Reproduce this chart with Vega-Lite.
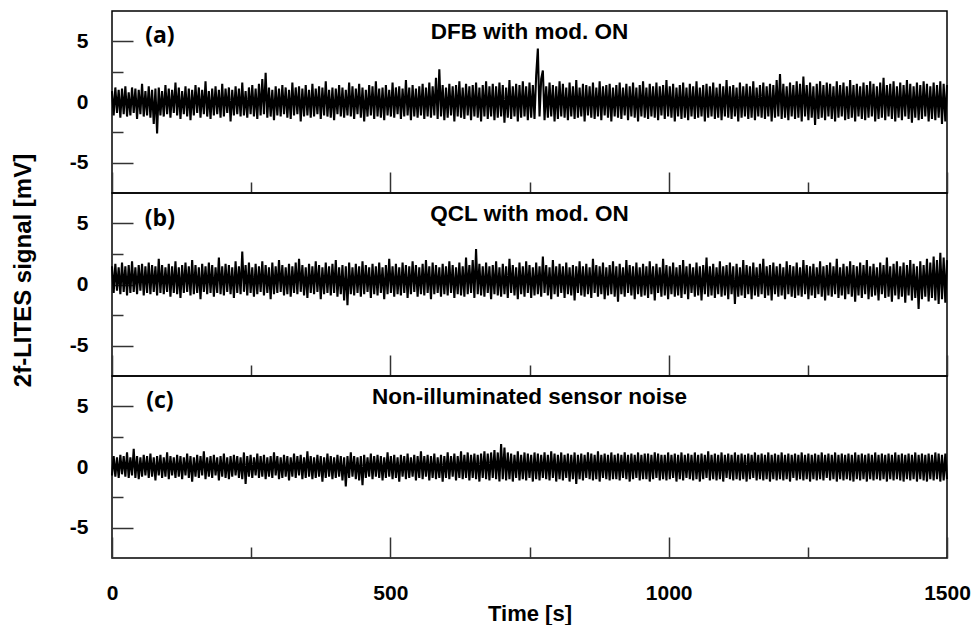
{
  "$schema": "https://vega.github.io/schema/vega-lite/v6.json",
  "padding": {"left": 10, "top": 10, "right": 0, "bottom": 0},
  "background": "white",
  "spacing": 0,
  "bounds": "flush",
  "config": {
    "font": "Liberation Sans",
    "view": {"stroke": "black", "strokeWidth": 1.5},
    "axis": {
      "domain": false,
      "grid": false,
      "labelFont": "Liberation Sans",
      "labelFontWeight": "bold",
      "labelFontSize": 21,
      "labelColor": "black",
      "labelFlush": false,
      "labelOverlap": false,
      "titleFont": "Liberation Sans",
      "titleFontWeight": "bold",
      "titleFontSize": 22,
      "titleColor": "black",
      "tickColor": "#333333",
      "tickWidth": 1.5
    },
    "line": {"color": "black", "strokeWidth": 2.1, "strokeJoin": "bevel", "clip": true}
  },
  "data": {"values": [
{"t":0,"a":0.9,"b":1.5,"c":-0.7},{"t":3,"a":-1.1,"b":-0.7,"c":0.9},{"t":6,"a":1.2,"b":1.7,"c":-0.8},{"t":9,"a":-0.9,"b":-0.5,"c":0.8},{"t":12,"a":1.0,"b":1.4,"c":-0.9},{"t":15,"a":-1.3,"b":-0.8,"c":1.0},{"t":18,"a":1.1,"b":1.8,"c":-0.6},{"t":21,"a":-1.0,"b":-0.6,"c":0.9},{"t":24,"a":1.3,"b":1.5,"c":-0.8},{"t":27,"a":-1.2,"b":-0.9,"c":1.2},
{"t":30,"a":0.8,"b":1.6,"c":-0.9},{"t":33,"a":-1.1,"b":-0.7,"c":0.8},{"t":36,"a":1.2,"b":1.9,"c":-0.7},{"t":39,"a":-0.9,"b":-0.6,"c":1.5},{"t":42,"a":1.1,"b":1.4,"c":-0.9},{"t":45,"a":-1.4,"b":-0.8,"c":0.9},{"t":48,"a":1.0,"b":1.6,"c":-1.0},{"t":51,"a":-1.0,"b":-0.5,"c":0.8},{"t":54,"a":1.5,"b":1.7,"c":-0.8},{"t":57,"a":-1.2,"b":-0.9,"c":1.0},
{"t":60,"a":0.9,"b":1.5,"c":-0.7},{"t":63,"a":-1.1,"b":-0.7,"c":0.9},{"t":66,"a":1.3,"b":1.8,"c":-0.9},{"t":69,"a":-1.3,"b":-0.8,"c":1.1},{"t":72,"a":1.0,"b":1.6,"c":-0.8},{"t":75,"a":-1.8,"b":-0.6,"c":0.8},{"t":78,"a":1.1,"b":1.5,"c":-1.1},{"t":81,"a":-2.6,"b":-0.9,"c":0.9},{"t":84,"a":1.2,"b":2.1,"c":-0.7},{"t":87,"a":-1.1,"b":-0.7,"c":1.0},
{"t":90,"a":0.9,"b":1.6,"c":-0.9},{"t":93,"a":-1.2,"b":-0.8,"c":0.8},{"t":96,"a":1.4,"b":1.4,"c":-0.8},{"t":99,"a":-1.0,"b":-0.6,"c":1.2},{"t":102,"a":1.1,"b":1.7,"c":-1.0},{"t":105,"a":-1.3,"b":-1.0,"c":0.9},{"t":108,"a":1.0,"b":1.5,"c":-0.7},{"t":111,"a":-0.9,"b":-0.7,"c":0.8},{"t":114,"a":1.6,"b":1.9,"c":-0.9},{"t":117,"a":-1.1,"b":-0.8,"c":1.0},
{"t":120,"a":1.2,"b":1.4,"c":-0.8},{"t":123,"a":-1.4,"b":-1.1,"c":0.9},{"t":126,"a":0.9,"b":1.6,"c":-1.0},{"t":129,"a":-1.0,"b":-0.7,"c":0.8},{"t":132,"a":1.3,"b":1.8,"c":-0.7},{"t":135,"a":-1.2,"b":-0.6,"c":1.1},{"t":138,"a":1.1,"b":1.5,"c":-0.9},{"t":141,"a":-1.5,"b":-0.9,"c":0.9},{"t":144,"a":1.0,"b":2.0,"c":-1.2},{"t":147,"a":-1.1,"b":-0.8,"c":0.8},
{"t":150,"a":1.4,"b":1.6,"c":-0.8},{"t":153,"a":-0.9,"b":-0.7,"c":1.0},{"t":156,"a":1.2,"b":1.4,"c":-0.9},{"t":159,"a":-1.3,"b":-1.2,"c":0.9},{"t":162,"a":1.0,"b":1.7,"c":-0.7},{"t":165,"a":-1.0,"b":-0.6,"c":1.3},{"t":168,"a":1.7,"b":1.5,"c":-1.0},{"t":171,"a":-1.2,"b":-0.8,"c":0.8},{"t":174,"a":0.9,"b":1.8,"c":-0.8},{"t":177,"a":-1.4,"b":-0.7,"c":0.9},
{"t":180,"a":1.1,"b":1.6,"c":-0.9},{"t":183,"a":-1.1,"b":-1.0,"c":1.0},{"t":186,"a":1.3,"b":1.4,"c":-0.7},{"t":189,"a":-1.0,"b":-0.7,"c":0.8},{"t":192,"a":1.0,"b":2.2,"c":-1.1},{"t":195,"a":-1.3,"b":-0.8,"c":0.9},{"t":198,"a":1.5,"b":1.5,"c":-0.8},{"t":201,"a":-1.2,"b":-0.9,"c":1.1},{"t":204,"a":1.1,"b":1.7,"c":-0.9},{"t":207,"a":-0.9,"b":-0.6,"c":0.8},
{"t":210,"a":1.2,"b":1.6,"c":-1.0},{"t":213,"a":-1.6,"b":-0.8,"c":0.9},{"t":216,"a":1.0,"b":1.4,"c":-0.8},{"t":219,"a":-1.1,"b":-1.1,"c":1.0},{"t":222,"a":1.3,"b":1.9,"c":-0.7},{"t":225,"a":-1.0,"b":-0.7,"c":0.9},{"t":228,"a":1.1,"b":1.5,"c":-0.9},{"t":231,"a":-1.2,"b":-0.8,"c":0.8},{"t":234,"a":1.6,"b":2.7,"c":-1.0},{"t":237,"a":-1.1,"b":-0.6,"c":1.2},
{"t":240,"a":0.9,"b":1.6,"c":-1.4},{"t":243,"a":-1.3,"b":-0.9,"c":0.9},{"t":246,"a":1.2,"b":1.8,"c":-0.8},{"t":249,"a":-1.0,"b":-0.7,"c":1.0},{"t":252,"a":1.4,"b":1.4,"c":-0.9},{"t":255,"a":-1.2,"b":-1.0,"c":0.8},{"t":258,"a":1.1,"b":1.7,"c":-0.7},{"t":261,"a":-1.4,"b":-0.8,"c":1.1},{"t":264,"a":1.5,"b":1.5,"c":-0.9},{"t":267,"a":-1.1,"b":-0.6,"c":0.9},
{"t":270,"a":1.9,"b":1.9,"c":-0.8},{"t":273,"a":-1.0,"b":-0.9,"c":1.0},{"t":276,"a":2.4,"b":1.6,"c":-1.0},{"t":279,"a":-1.3,"b":-0.7,"c":0.8},{"t":282,"a":1.2,"b":1.4,"c":-0.8},{"t":285,"a":-1.2,"b":-1.2,"c":0.9},{"t":288,"a":1.0,"b":1.8,"c":-0.9},{"t":291,"a":-1.5,"b":-0.8,"c":1.2},{"t":294,"a":1.3,"b":1.5,"c":-0.7},{"t":297,"a":-1.1,"b":-0.7,"c":0.9},
{"t":300,"a":1.1,"b":2.0,"c":-1.0},{"t":303,"a":-1.2,"b":-0.6,"c":0.8},{"t":306,"a":1.4,"b":1.6,"c":-0.9},{"t":309,"a":-1.0,"b":-0.9,"c":1.0},{"t":312,"a":1.2,"b":1.4,"c":-0.8},{"t":315,"a":-1.3,"b":-0.8,"c":0.9},{"t":318,"a":1.0,"b":1.7,"c":-1.1},{"t":321,"a":-1.4,"b":-1.0,"c":0.8},{"t":324,"a":1.6,"b":1.5,"c":-0.8},{"t":327,"a":-1.1,"b":-0.7,"c":1.1},
{"t":330,"a":1.2,"b":1.8,"c":-0.9},{"t":333,"a":-1.0,"b":-0.8,"c":0.9},{"t":336,"a":1.3,"b":2.1,"c":-0.7},{"t":339,"a":-1.6,"b":-0.6,"c":1.0},{"t":342,"a":1.1,"b":1.6,"c":-1.0},{"t":345,"a":-1.2,"b":-0.9,"c":0.8},{"t":348,"a":1.4,"b":1.4,"c":-0.9},{"t":351,"a":-1.1,"b":-1.1,"c":1.3},{"t":354,"a":1.0,"b":1.7,"c":-0.8},{"t":357,"a":-1.3,"b":-0.7,"c":0.9},
{"t":360,"a":1.5,"b":1.5,"c":-1.0},{"t":363,"a":-1.2,"b":-0.8,"c":0.8},{"t":366,"a":1.1,"b":1.9,"c":-0.9},{"t":369,"a":-1.0,"b":-0.6,"c":1.0},{"t":372,"a":1.3,"b":1.6,"c":-0.8},{"t":375,"a":-1.4,"b":-1.2,"c":0.9},{"t":378,"a":1.2,"b":1.4,"c":-1.2},{"t":381,"a":-1.1,"b":-0.8,"c":0.8},{"t":384,"a":1.7,"b":1.8,"c":-0.9},{"t":387,"a":-1.2,"b":-0.7,"c":1.1},
{"t":390,"a":1.0,"b":1.5,"c":-0.8},{"t":393,"a":-1.3,"b":-0.9,"c":0.9},{"t":396,"a":1.2,"b":1.7,"c":-1.0},{"t":399,"a":-1.5,"b":-0.7,"c":0.8},{"t":402,"a":1.1,"b":2.0,"c":-0.9},{"t":405,"a":-1.0,"b":-1.0,"c":1.0},{"t":408,"a":1.4,"b":1.4,"c":-0.8},{"t":411,"a":-1.2,"b":-0.8,"c":0.9},{"t":414,"a":1.2,"b":1.6,"c":-1.1},{"t":417,"a":-1.3,"b":-1.3,"c":0.8},
{"t":420,"a":1.0,"b":1.5,"c":-1.6},{"t":423,"a":-1.1,"b":-1.7,"c":0.9},{"t":426,"a":1.6,"b":1.8,"c":-0.9},{"t":429,"a":-1.2,"b":-0.8,"c":1.2},{"t":432,"a":1.3,"b":1.4,"c":-0.8},{"t":435,"a":-1.4,"b":-0.9,"c":0.9},{"t":438,"a":1.1,"b":1.7,"c":-1.0},{"t":441,"a":-1.0,"b":-0.7,"c":0.8},{"t":444,"a":1.5,"b":1.5,"c":-1.1},{"t":447,"a":-1.3,"b":-1.0,"c":0.9},
{"t":450,"a":1.2,"b":1.9,"c":-1.5},{"t":453,"a":-1.6,"b":-0.8,"c":1.0},{"t":456,"a":1.0,"b":1.6,"c":-0.9},{"t":459,"a":-1.2,"b":-0.6,"c":0.8},{"t":462,"a":1.4,"b":1.4,"c":-0.8},{"t":465,"a":-1.1,"b":-1.1,"c":1.1},{"t":468,"a":1.3,"b":1.7,"c":-1.0},{"t":471,"a":-1.4,"b":-0.8,"c":0.9},{"t":474,"a":1.7,"b":1.5,"c":-0.8},{"t":477,"a":-1.2,"b":-0.9,"c":1.0},
{"t":480,"a":1.1,"b":1.8,"c":-0.9},{"t":483,"a":-1.3,"b":-0.7,"c":0.9},{"t":486,"a":1.2,"b":1.4,"c":-1.1},{"t":489,"a":-1.5,"b":-1.2,"c":0.8},{"t":492,"a":1.4,"b":1.6,"c":-0.9},{"t":495,"a":-1.1,"b":-0.8,"c":1.2},{"t":498,"a":1.0,"b":2.1,"c":-0.8},{"t":501,"a":-1.2,"b":-0.7,"c":0.9},{"t":504,"a":1.6,"b":1.5,"c":-1.0},{"t":507,"a":-1.3,"b":-1.0,"c":1.0},
{"t":510,"a":1.2,"b":1.7,"c":-0.9},{"t":513,"a":-1.0,"b":-0.8,"c":0.8},{"t":516,"a":1.3,"b":1.4,"c":-1.2},{"t":519,"a":-1.4,"b":-0.9,"c":1.0},{"t":522,"a":1.1,"b":1.8,"c":-0.8},{"t":525,"a":-1.2,"b":-0.7,"c":0.9},{"t":528,"a":1.8,"b":1.6,"c":-1.0},{"t":531,"a":-1.1,"b":-1.1,"c":1.1},{"t":534,"a":1.2,"b":1.5,"c":-0.9},{"t":537,"a":-1.5,"b":-0.8,"c":0.8},
{"t":540,"a":1.4,"b":1.9,"c":-0.8},{"t":543,"a":-1.2,"b":-0.6,"c":1.0},{"t":546,"a":1.1,"b":1.6,"c":-1.1},{"t":549,"a":-1.3,"b":-1.0,"c":0.9},{"t":552,"a":1.3,"b":1.4,"c":-0.9},{"t":555,"a":-1.1,"b":-0.8,"c":1.3},{"t":558,"a":1.5,"b":1.7,"c":-1.0},{"t":561,"a":-1.4,"b":-0.9,"c":0.9},{"t":564,"a":1.2,"b":2.0,"c":-0.8},{"t":567,"a":-1.2,"b":-0.7,"c":1.0},
{"t":570,"a":1.6,"b":1.5,"c":-1.1},{"t":573,"a":-1.3,"b":-1.2,"c":0.9},{"t":576,"a":1.3,"b":1.8,"c":-0.9},{"t":579,"a":-1.1,"b":-0.8,"c":1.1},{"t":582,"a":2.0,"b":1.6,"c":-1.0},{"t":585,"a":-1.4,"b":-0.7,"c":0.8},{"t":588,"a":2.7,"b":1.4,"c":-0.9},{"t":591,"a":-1.2,"b":-1.0,"c":1.0},{"t":594,"a":1.4,"b":1.7,"c":-1.2},{"t":597,"a":-1.5,"b":-0.8,"c":0.9},
{"t":600,"a":1.2,"b":1.5,"c":-0.9},{"t":603,"a":-1.3,"b":-0.9,"c":1.2},{"t":606,"a":1.5,"b":1.9,"c":-1.0},{"t":609,"a":-1.1,"b":-0.7,"c":0.9},{"t":612,"a":1.3,"b":1.6,"c":-0.8},{"t":615,"a":-1.6,"b":-1.1,"c":1.1},{"t":618,"a":1.4,"b":1.4,"c":-1.1},{"t":621,"a":-1.2,"b":-0.8,"c":0.9},{"t":624,"a":1.7,"b":1.8,"c":-0.9},{"t":627,"a":-1.3,"b":-0.9,"c":1.3},
{"t":630,"a":1.2,"b":1.5,"c":-1.0},{"t":633,"a":-1.4,"b":-1.0,"c":1.0},{"t":636,"a":1.5,"b":2.2,"c":-0.9},{"t":639,"a":-1.1,"b":-0.8,"c":1.2},{"t":642,"a":1.3,"b":1.6,"c":-1.1},{"t":645,"a":-1.5,"b":-0.7,"c":1.0},{"t":648,"a":1.4,"b":2.0,"c":-0.9},{"t":651,"a":-1.2,"b":-1.1,"c":1.1},{"t":654,"a":1.6,"b":2.9,"c":-1.0},{"t":657,"a":-1.3,"b":-0.8,"c":1.0},
{"t":660,"a":1.2,"b":1.7,"c":-1.2},{"t":663,"a":-1.6,"b":-0.9,"c":1.1},{"t":666,"a":1.4,"b":1.5,"c":-0.9},{"t":669,"a":-1.2,"b":-1.0,"c":1.3},{"t":672,"a":1.7,"b":1.8,"c":-1.0},{"t":675,"a":-1.4,"b":-0.7,"c":1.1},{"t":678,"a":1.3,"b":1.5,"c":-1.1},{"t":681,"a":-1.2,"b":-1.2,"c":1.2},{"t":684,"a":1.5,"b":1.6,"c":-0.9},{"t":687,"a":-1.5,"b":-0.8,"c":1.4},
{"t":690,"a":1.3,"b":1.9,"c":-1.0},{"t":693,"a":-1.3,"b":-0.9,"c":1.2},{"t":696,"a":1.6,"b":1.4,"c":-1.2},{"t":699,"a":-1.2,"b":-1.0,"c":1.9},{"t":702,"a":1.4,"b":1.7,"c":-1.0},{"t":705,"a":-1.7,"b":-0.8,"c":1.6},{"t":708,"a":1.2,"b":1.5,"c":-1.1},{"t":711,"a":-1.3,"b":-1.1,"c":1.2},{"t":714,"a":1.8,"b":2.1,"c":-1.0},{"t":717,"a":-1.4,"b":-0.7,"c":1.1},
{"t":720,"a":1.3,"b":1.6,"c":-1.2},{"t":723,"a":-1.2,"b":-0.9,"c":1.0},{"t":726,"a":1.5,"b":1.4,"c":-0.9},{"t":729,"a":-1.6,"b":-1.2,"c":1.3},{"t":732,"a":1.4,"b":1.8,"c":-1.1},{"t":735,"a":-1.3,"b":-0.8,"c":1.0},{"t":738,"a":1.7,"b":1.5,"c":-1.0},{"t":741,"a":-1.2,"b":-1.0,"c":1.2},{"t":744,"a":1.3,"b":1.9,"c":-1.1},{"t":747,"a":-1.5,"b":-0.7,"c":1.1},
{"t":750,"a":1.6,"b":1.6,"c":-0.9},{"t":753,"a":-1.3,"b":-1.1,"c":1.0},{"t":756,"a":1.4,"b":1.4,"c":-1.2},{"t":759,"a":-1.4,"b":-0.9,"c":1.2},{"t":762,"a":2.2,"b":1.8,"c":-1.0},{"t":765,"a":4.4,"b":-0.8,"c":1.1},{"t":768,"a":-1.2,"b":1.5,"c":-1.1},{"t":771,"a":1.9,"b":-1.0,"c":1.0},{"t":774,"a":2.6,"b":2.3,"c":-0.9},{"t":777,"a":-1.5,"b":-0.7,"c":1.2},
{"t":780,"a":1.3,"b":1.6,"c":-1.0},{"t":783,"a":-1.3,"b":-0.9,"c":1.0},{"t":786,"a":1.6,"b":1.4,"c":-1.1},{"t":789,"a":-1.2,"b":-1.2,"c":1.3},{"t":792,"a":1.4,"b":2.0,"c":-0.9},{"t":795,"a":-1.6,"b":-0.8,"c":1.1},{"t":798,"a":1.3,"b":1.5,"c":-1.2},{"t":801,"a":-1.4,"b":-1.0,"c":1.0},{"t":804,"a":1.7,"b":1.7,"c":-1.0},{"t":807,"a":-1.2,"b":-0.7,"c":1.2},
{"t":810,"a":1.5,"b":1.5,"c":-1.1},{"t":813,"a":-1.3,"b":-1.1,"c":1.0},{"t":816,"a":1.2,"b":1.8,"c":-0.9},{"t":819,"a":-1.5,"b":-0.8,"c":1.1},{"t":822,"a":1.6,"b":1.4,"c":-1.2},{"t":825,"a":-1.2,"b":-0.9,"c":1.0},{"t":828,"a":1.3,"b":1.6,"c":-1.0},{"t":831,"a":-1.4,"b":-1.3,"c":1.2},{"t":834,"a":1.8,"b":1.5,"c":-1.4},{"t":837,"a":-1.3,"b":-0.7,"c":1.0},
{"t":840,"a":1.2,"b":1.9,"c":-1.0},{"t":843,"a":-1.2,"b":-0.9,"c":1.1},{"t":846,"a":1.5,"b":1.5,"c":-1.1},{"t":849,"a":-1.6,"b":-1.0,"c":1.0},{"t":852,"a":1.4,"b":1.7,"c":-0.9},{"t":855,"a":-1.1,"b":-0.8,"c":1.2},{"t":858,"a":1.3,"b":1.4,"c":-1.0},{"t":861,"a":-1.3,"b":-1.1,"c":1.1},{"t":864,"a":1.6,"b":2.1,"c":-1.1},{"t":867,"a":-1.4,"b":-0.7,"c":1.0},
{"t":870,"a":1.2,"b":1.6,"c":-1.0},{"t":873,"a":-1.2,"b":-1.0,"c":1.3},{"t":876,"a":1.7,"b":1.5,"c":-1.2},{"t":879,"a":-1.5,"b":-0.8,"c":1.0},{"t":882,"a":1.3,"b":1.8,"c":-0.9},{"t":885,"a":-1.1,"b":-1.2,"c":1.1},{"t":888,"a":1.4,"b":1.4,"c":-1.0},{"t":891,"a":-1.3,"b":-0.9,"c":1.0},{"t":894,"a":1.5,"b":1.6,"c":-1.1},{"t":897,"a":-1.6,"b":-0.8,"c":1.2},
{"t":900,"a":1.2,"b":1.9,"c":-1.0},{"t":903,"a":-1.2,"b":-1.0,"c":1.0},{"t":906,"a":1.4,"b":1.5,"c":-1.0},{"t":909,"a":-1.3,"b":-1.4,"c":1.1},{"t":912,"a":1.6,"b":1.7,"c":-1.1},{"t":915,"a":-1.4,"b":-0.8,"c":1.0},{"t":918,"a":1.2,"b":1.4,"c":-0.9},{"t":921,"a":-1.1,"b":-1.0,"c":1.2},{"t":924,"a":1.5,"b":2.0,"c":-1.0},{"t":927,"a":-1.5,"b":-0.7,"c":1.0},
{"t":930,"a":1.3,"b":1.6,"c":-1.2},{"t":933,"a":-1.2,"b":-0.9,"c":1.1},{"t":936,"a":1.6,"b":1.5,"c":-1.0},{"t":939,"a":-1.3,"b":-1.2,"c":1.0},{"t":942,"a":1.2,"b":1.8,"c":-0.9},{"t":945,"a":-1.6,"b":-0.8,"c":1.2},{"t":948,"a":1.4,"b":1.4,"c":-1.1},{"t":951,"a":-1.2,"b":-1.0,"c":1.0},{"t":954,"a":1.7,"b":1.7,"c":-1.0},{"t":957,"a":-1.3,"b":-0.9,"c":1.1},
{"t":960,"a":1.2,"b":1.5,"c":-1.0},{"t":963,"a":-1.4,"b":-1.1,"c":1.1},{"t":966,"a":1.5,"b":1.9,"c":-1.2},{"t":969,"a":-1.2,"b":-0.8,"c":1.0},{"t":972,"a":1.3,"b":1.5,"c":-1.0},{"t":975,"a":-1.3,"b":-1.3,"c":1.2},{"t":978,"a":1.6,"b":1.7,"c":-0.9},{"t":981,"a":-1.5,"b":-0.7,"c":1.1},{"t":984,"a":1.3,"b":1.4,"c":-1.1},{"t":987,"a":-1.1,"b":-1.0,"c":1.0},
{"t":990,"a":1.4,"b":2.1,"c":-1.0},{"t":993,"a":-1.4,"b":-0.9,"c":1.0},{"t":996,"a":1.8,"b":1.6,"c":-1.1},{"t":999,"a":-1.2,"b":-1.2,"c":1.2},{"t":1002,"a":1.3,"b":1.5,"c":-1.0},{"t":1005,"a":-1.3,"b":-0.8,"c":1.0},{"t":1008,"a":1.5,"b":1.8,"c":-0.9},{"t":1011,"a":-1.6,"b":-1.0,"c":1.1},{"t":1014,"a":1.2,"b":1.4,"c":-1.2},{"t":1017,"a":-1.2,"b":-0.9,"c":1.0},
{"t":1020,"a":1.4,"b":1.6,"c":-1.0},{"t":1023,"a":-1.4,"b":-1.1,"c":1.2},{"t":1026,"a":1.6,"b":2.0,"c":-1.1},{"t":1029,"a":-1.3,"b":-0.8,"c":1.0},{"t":1032,"a":1.2,"b":1.5,"c":-0.9},{"t":1035,"a":-1.5,"b":-1.2,"c":1.1},{"t":1038,"a":1.5,"b":1.7,"c":-1.0},{"t":1041,"a":-1.2,"b":-0.7,"c":1.0},{"t":1044,"a":1.3,"b":1.4,"c":-1.1},{"t":1047,"a":-1.4,"b":-1.0,"c":1.2},
{"t":1050,"a":1.7,"b":1.8,"c":-1.0},{"t":1053,"a":-1.3,"b":-0.9,"c":1.0},{"t":1056,"a":1.2,"b":1.5,"c":-1.2},{"t":1059,"a":-1.2,"b":-1.3,"c":1.1},{"t":1062,"a":1.4,"b":1.6,"c":-1.0},{"t":1065,"a":-1.6,"b":-0.8,"c":1.0},{"t":1068,"a":1.5,"b":2.2,"c":-0.9},{"t":1071,"a":-1.3,"b":-1.0,"c":1.3},{"t":1074,"a":1.3,"b":1.5,"c":-1.1},{"t":1077,"a":-1.2,"b":-0.9,"c":1.0},
{"t":1080,"a":1.6,"b":1.7,"c":-1.0},{"t":1083,"a":-1.4,"b":-1.1,"c":1.1},{"t":1086,"a":1.2,"b":1.4,"c":-1.1},{"t":1089,"a":-1.3,"b":-0.8,"c":1.0},{"t":1092,"a":1.5,"b":1.9,"c":-1.0},{"t":1095,"a":-1.5,"b":-1.0,"c":1.2},{"t":1098,"a":1.3,"b":1.5,"c":-1.2},{"t":1101,"a":-1.2,"b":-0.9,"c":1.0},{"t":1104,"a":1.8,"b":1.6,"c":-0.9},{"t":1107,"a":-1.3,"b":-1.2,"c":1.1},
{"t":1110,"a":1.3,"b":1.8,"c":-1.0},{"t":1113,"a":-1.4,"b":-0.8,"c":1.0},{"t":1116,"a":1.4,"b":1.5,"c":-1.1},{"t":1119,"a":-1.2,"b":-1.6,"c":1.2},{"t":1122,"a":1.2,"b":1.7,"c":-1.0},{"t":1125,"a":-1.6,"b":-1.0,"c":1.0},{"t":1128,"a":1.6,"b":1.4,"c":-1.1},{"t":1131,"a":-1.3,"b":-0.9,"c":1.1},{"t":1134,"a":1.3,"b":2.0,"c":-1.0},{"t":1137,"a":-1.2,"b":-1.1,"c":1.0},
{"t":1140,"a":1.5,"b":1.6,"c":-1.2},{"t":1143,"a":-1.4,"b":-0.8,"c":1.1},{"t":1146,"a":1.3,"b":1.5,"c":-1.0},{"t":1149,"a":-1.3,"b":-1.2,"c":1.0},{"t":1152,"a":1.7,"b":1.8,"c":-0.9},{"t":1155,"a":-1.5,"b":-0.9,"c":1.2},{"t":1158,"a":1.2,"b":1.4,"c":-1.1},{"t":1161,"a":-1.2,"b":-1.0,"c":1.0},{"t":1164,"a":1.4,"b":1.7,"c":-1.0},{"t":1167,"a":-1.3,"b":-0.8,"c":1.1},
{"t":1170,"a":1.6,"b":2.1,"c":-1.1},{"t":1173,"a":-1.4,"b":-1.1,"c":1.0},{"t":1176,"a":1.3,"b":1.5,"c":-1.0},{"t":1179,"a":-1.2,"b":-0.9,"c":1.2},{"t":1182,"a":1.5,"b":1.6,"c":-1.2},{"t":1185,"a":-1.6,"b":-1.3,"c":1.0},{"t":1188,"a":1.4,"b":1.8,"c":-1.0},{"t":1191,"a":-1.3,"b":-0.8,"c":1.1},{"t":1194,"a":1.8,"b":1.5,"c":-1.1},{"t":1197,"a":-1.2,"b":-1.0,"c":1.0},
{"t":1200,"a":2.3,"b":1.7,"c":-1.0},{"t":1203,"a":-1.4,"b":-0.9,"c":1.2},{"t":1206,"a":1.5,"b":1.4,"c":-1.1},{"t":1209,"a":-1.3,"b":-1.2,"c":1.0},{"t":1212,"a":1.3,"b":1.9,"c":-1.0},{"t":1215,"a":-1.5,"b":-0.8,"c":1.1},{"t":1218,"a":1.6,"b":1.6,"c":-1.2},{"t":1221,"a":-1.2,"b":-1.0,"c":1.0},{"t":1224,"a":1.4,"b":1.5,"c":-0.9},{"t":1227,"a":-1.4,"b":-1.1,"c":1.1},
{"t":1230,"a":1.7,"b":1.8,"c":-1.1},{"t":1233,"a":-1.3,"b":-0.9,"c":1.0},{"t":1236,"a":1.5,"b":1.4,"c":-1.0},{"t":1239,"a":-1.6,"b":-1.0,"c":1.2},{"t":1242,"a":2.1,"b":2.0,"c":-1.1},{"t":1245,"a":-1.2,"b":-0.8,"c":1.0},{"t":1248,"a":1.4,"b":1.6,"c":-1.0},{"t":1251,"a":-1.5,"b":-1.2,"c":1.1},{"t":1254,"a":1.6,"b":1.5,"c":-1.2},{"t":1257,"a":-1.3,"b":-0.9,"c":1.0},
{"t":1260,"a":1.3,"b":1.7,"c":-1.0},{"t":1263,"a":-1.9,"b":-1.1,"c":1.1},{"t":1266,"a":1.5,"b":1.4,"c":-1.1},{"t":1269,"a":-1.4,"b":-0.8,"c":1.0},{"t":1272,"a":1.7,"b":1.9,"c":-1.0},{"t":1275,"a":-1.3,"b":-1.0,"c":1.2},{"t":1278,"a":1.4,"b":1.5,"c":-1.1},{"t":1281,"a":-1.5,"b":-1.3,"c":1.0},{"t":1284,"a":1.6,"b":1.6,"c":-0.9},{"t":1287,"a":-1.2,"b":-0.9,"c":1.1},
{"t":1290,"a":1.5,"b":1.8,"c":-1.1},{"t":1293,"a":-1.4,"b":-1.0,"c":1.0},{"t":1296,"a":1.3,"b":1.5,"c":-1.0},{"t":1299,"a":-1.6,"b":-0.8,"c":1.2},{"t":1302,"a":1.7,"b":2.1,"c":-1.2},{"t":1305,"a":-1.3,"b":-1.1,"c":1.0},{"t":1308,"a":1.4,"b":1.4,"c":-1.0},{"t":1311,"a":-1.2,"b":-0.9,"c":1.1},{"t":1314,"a":1.6,"b":1.7,"c":-1.1},{"t":1317,"a":-1.5,"b":-1.2,"c":1.0},
{"t":1320,"a":1.3,"b":1.5,"c":-1.0},{"t":1323,"a":-1.4,"b":-0.8,"c":1.1},{"t":1326,"a":1.8,"b":1.9,"c":-1.1},{"t":1329,"a":-1.3,"b":-1.0,"c":1.0},{"t":1332,"a":1.4,"b":1.6,"c":-1.2},{"t":1335,"a":-1.6,"b":-1.4,"c":1.2},{"t":1338,"a":1.5,"b":1.5,"c":-1.0},{"t":1341,"a":-1.2,"b":-0.9,"c":1.0},{"t":1344,"a":1.3,"b":1.8,"c":-1.1},{"t":1347,"a":-1.4,"b":-1.1,"c":1.1},
{"t":1350,"a":1.6,"b":1.6,"c":-1.0},{"t":1353,"a":-1.5,"b":-0.8,"c":1.0},{"t":1356,"a":1.4,"b":2.0,"c":-1.2},{"t":1359,"a":-1.3,"b":-1.2,"c":1.1},{"t":1362,"a":1.7,"b":1.5,"c":-1.0},{"t":1365,"a":-1.2,"b":-1.0,"c":1.0},{"t":1368,"a":1.5,"b":1.7,"c":-1.1},{"t":1371,"a":-1.6,"b":-0.9,"c":1.2},{"t":1374,"a":1.3,"b":1.4,"c":-1.0},{"t":1377,"a":-1.4,"b":-1.3,"c":1.0},
{"t":1380,"a":1.6,"b":1.8,"c":-1.1},{"t":1383,"a":-1.3,"b":-0.8,"c":1.1},{"t":1386,"a":2.0,"b":1.6,"c":-1.0},{"t":1389,"a":-1.5,"b":-1.1,"c":1.0},{"t":1392,"a":1.4,"b":2.2,"c":-1.2},{"t":1395,"a":-1.2,"b":-1.0,"c":1.1},{"t":1398,"a":1.5,"b":1.5,"c":-1.0},{"t":1401,"a":-1.4,"b":-1.4,"c":1.0},{"t":1404,"a":1.7,"b":1.7,"c":-1.1},{"t":1407,"a":-1.6,"b":-0.9,"c":1.2},
{"t":1410,"a":1.3,"b":1.9,"c":-1.0},{"t":1413,"a":-1.3,"b":-1.2,"c":1.0},{"t":1416,"a":1.6,"b":1.5,"c":-1.1},{"t":1419,"a":-1.5,"b":-1.0,"c":1.1},{"t":1422,"a":1.4,"b":1.8,"c":-1.2},{"t":1425,"a":-1.2,"b":-1.5,"c":1.0},{"t":1428,"a":1.8,"b":1.6,"c":-1.0},{"t":1431,"a":-1.4,"b":-0.9,"c":1.1},{"t":1434,"a":1.5,"b":2.0,"c":-1.1},{"t":1437,"a":-1.7,"b":-1.3,"c":1.0},
{"t":1440,"a":1.3,"b":1.7,"c":-1.0},{"t":1443,"a":-1.3,"b":-1.1,"c":1.2},{"t":1446,"a":1.6,"b":1.5,"c":-1.2},{"t":1449,"a":-1.5,"b":-2.0,"c":1.0},{"t":1452,"a":1.4,"b":1.9,"c":-1.0},{"t":1455,"a":-1.4,"b":-1.2,"c":1.1},{"t":1458,"a":1.7,"b":1.6,"c":-1.1},{"t":1461,"a":-1.2,"b":-1.0,"c":1.0},{"t":1464,"a":1.5,"b":2.1,"c":-1.2},{"t":1467,"a":-1.6,"b":-1.4,"c":1.1},
{"t":1470,"a":1.3,"b":1.8,"c":-1.0},{"t":1473,"a":-1.4,"b":-1.1,"c":1.0},{"t":1476,"a":1.6,"b":2.3,"c":-1.1},{"t":1479,"a":-1.5,"b":-1.3,"c":1.2},{"t":1482,"a":1.4,"b":2.0,"c":-1.0},{"t":1485,"a":-1.3,"b":-1.6,"c":1.1},{"t":1488,"a":1.7,"b":2.6,"c":-1.2},{"t":1491,"a":-1.8,"b":-1.2,"c":1.0},{"t":1494,"a":1.5,"b":2.2,"c":-1.1},{"t":1497,"a":-1.6,"b":-1.5,"c":1.1},
{"t":1500,"a":1.4,"b":2.0,"c":-1.0}
  ]},
  "vconcat": [
    {
      "width": 835,
      "height": 182,
      "layer": [
        {
          "mark": "line",
          "encoding": {
            "x": {"field": "t", "type": "quantitative",
              "scale": {"domain": [0, 1500], "nice": false, "zero": false},
              "axis": {"values": [0, 250, 500, 750, 1000, 1250, 1500], "labels": false, "title": null,
                "tickSize": {"condition": {"test": "datum.value % 500 === 0", "value": -21}, "value": -11}}},
            "y": {"field": "a", "type": "quantitative",
              "scale": {"domain": [-7.5, 7.5], "nice": false, "zero": false},
              "axis": {"values": [-5, -2.5, 0, 2.5, 5], "title": null, "labelPadding": 45,
                "labelExpr": "datum.value === 5 ? '5' : datum.value === 0 ? '0' : datum.value === -5 ? '-5' : ''",
                "tickSize": {"condition": {"test": "datum.value % 5 === 0", "value": -21}, "value": -11}}}
          }
        },
        {
          "data": {"values": [{"tag": "(a)", "name": "DFB with mod. ON"}]},
          "layer": [
            {"mark": {"type": "text", "font": "Open Sans", "fontWeight": "bold", "fontSize": 23, "align": "center", "baseline": "middle", "color": "black"},
             "encoding": {"x": {"datum": 86}, "y": {"datum": 5.4}, "text": {"field": "tag"}}},
            {"mark": {"type": "text", "font": "Liberation Sans", "fontWeight": "bold", "fontSize": 22.5, "align": "center", "baseline": "middle", "color": "black"},
             "encoding": {"x": {"datum": 750}, "y": {"datum": 5.8}, "text": {"field": "name"}}}
          ]
        }
      ]
    },
    {
      "width": 835,
      "height": 183,
      "layer": [
        {
          "mark": "line",
          "encoding": {
            "x": {"field": "t", "type": "quantitative",
              "scale": {"domain": [0, 1500], "nice": false, "zero": false},
              "axis": {"values": [0, 250, 500, 750, 1000, 1250, 1500], "labels": false, "title": null,
                "tickSize": {"condition": {"test": "datum.value % 500 === 0", "value": -21}, "value": -11}}},
            "y": {"field": "b", "type": "quantitative",
              "scale": {"domain": [-7.5, 7.5], "nice": false, "zero": false},
              "axis": {"values": [-5, -2.5, 0, 2.5, 5], "labelPadding": 45,
                "title": "2f-LITES signal [mV]", "titleFontSize": 24, "titleX": -89, "titleY": 77, "titleBaseline": "middle",
                "labelExpr": "datum.value === 5 ? '5' : datum.value === 0 ? '0' : datum.value === -5 ? '-5' : ''",
                "tickSize": {"condition": {"test": "datum.value % 5 === 0", "value": -21}, "value": -11}}}
          }
        },
        {
          "data": {"values": [{"tag": "(b)", "name": "QCL with mod. ON"}]},
          "layer": [
            {"mark": {"type": "text", "font": "Open Sans", "fontWeight": "bold", "fontSize": 23, "align": "center", "baseline": "middle", "color": "black"},
             "encoding": {"x": {"datum": 86}, "y": {"datum": 5.4}, "text": {"field": "tag"}}},
            {"mark": {"type": "text", "font": "Liberation Sans", "fontWeight": "bold", "fontSize": 22.5, "align": "center", "baseline": "middle", "color": "black"},
             "encoding": {"x": {"datum": 750}, "y": {"datum": 5.8}, "text": {"field": "name"}}}
          ]
        }
      ]
    },
    {
      "width": 835,
      "height": 182,
      "layer": [
        {
          "mark": "line",
          "encoding": {
            "x": {"field": "t", "type": "quantitative",
              "scale": {"domain": [0, 1500], "nice": false, "zero": false},
              "axis": {"values": [0, 250, 500, 750, 1000, 1250, 1500], "labelPadding": 62, "labelBaseline": "alphabetic",
                "labelExpr": "datum.value % 500 === 0 ? format(datum.value, 'd') : ''",
                "title": "Time [s]", "titleY": 62, "titleBaseline": "alphabetic",
                "tickSize": {"condition": {"test": "datum.value % 500 === 0", "value": -21}, "value": -11}}},
            "y": {"field": "c", "type": "quantitative",
              "scale": {"domain": [-7.5, 7.5], "nice": false, "zero": false},
              "axis": {"values": [-5, -2.5, 0, 2.5, 5], "title": null, "labelPadding": 45,
                "labelExpr": "datum.value === 5 ? '5' : datum.value === 0 ? '0' : datum.value === -5 ? '-5' : ''",
                "tickSize": {"condition": {"test": "datum.value % 5 === 0", "value": -21}, "value": -11}}}
          }
        },
        {
          "data": {"values": [{"tag": "(c)", "name": "Non-illuminated sensor noise"}]},
          "layer": [
            {"mark": {"type": "text", "font": "Open Sans", "fontWeight": "bold", "fontSize": 23, "align": "center", "baseline": "middle", "color": "black"},
             "encoding": {"x": {"datum": 86}, "y": {"datum": 5.4}, "text": {"field": "tag"}}},
            {"mark": {"type": "text", "font": "Liberation Sans", "fontWeight": "bold", "fontSize": 22.5, "align": "center", "baseline": "middle", "color": "black"},
             "encoding": {"x": {"datum": 750}, "y": {"datum": 5.8}, "text": {"field": "name"}}}
          ]
        }
      ]
    }
  ]
}
